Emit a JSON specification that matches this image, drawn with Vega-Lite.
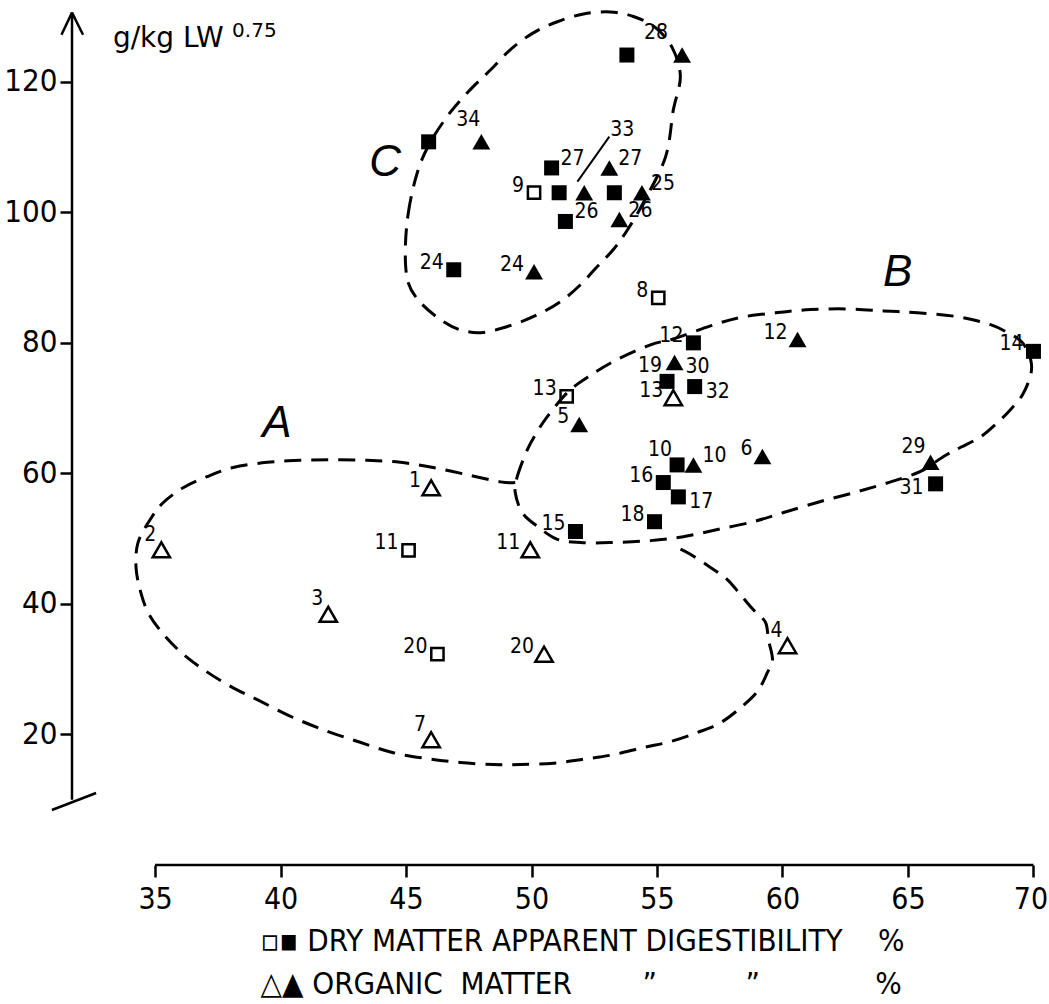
{
  "$schema": "https://vega.github.io/schema/vega-lite/v6.json",
  "width": 969,
  "height": 855,
  "autosize": {"type": "none"},
  "padding": {"left": 72, "top": 10, "right": 8, "bottom": 139},
  "background": "white",
  "config": {
    "view": {"stroke": null},
    "font": "DejaVu Sans Condensed",
    "text": {"font": "DejaVu Sans Condensed", "color": "black"}
  },
  "datasets": {
    "pts": [
      {"n": "28", "x": 53.8, "y": 124.1, "m": "DM", "f": "filled", "pos": "ur"},
      {"n": "", "x": 56.0, "y": 124.1, "m": "OM", "f": "filled", "pos": "none"},
      {"n": "", "x": 45.9, "y": 110.8, "m": "DM", "f": "filled", "pos": "none"},
      {"n": "34", "x": 48.0, "y": 110.8, "m": "OM", "f": "filled", "pos": "ua"},
      {"n": "27", "x": 50.8, "y": 106.8, "m": "DM", "f": "filled", "pos": "r"},
      {"n": "27", "x": 53.1, "y": 106.8, "m": "OM", "f": "filled", "pos": "r"},
      {"n": "9", "x": 50.1, "y": 103.0, "m": "DM", "f": "open", "pos": "l"},
      {"n": "", "x": 51.1, "y": 103.0, "m": "DM", "f": "filled", "pos": "none"},
      {"n": "", "x": 52.1, "y": 103.0, "m": "OM", "f": "filled", "pos": "none"},
      {"n": "", "x": 53.3, "y": 103.0, "m": "DM", "f": "filled", "pos": "none"},
      {"n": "25", "x": 54.4, "y": 103.0, "m": "OM", "f": "filled", "pos": "r"},
      {"n": "26", "x": 51.35, "y": 98.6, "m": "DM", "f": "filled", "pos": "r"},
      {"n": "26", "x": 53.5, "y": 98.9, "m": "OM", "f": "filled", "pos": "r"},
      {"n": "24", "x": 46.9, "y": 91.2, "m": "DM", "f": "filled", "pos": "l"},
      {"n": "24", "x": 50.1, "y": 90.9, "m": "OM", "f": "filled", "pos": "l"},
      {"n": "8", "x": 55.05, "y": 86.9, "m": "DM", "f": "open", "pos": "l"},
      {"n": "12", "x": 56.45, "y": 80.0, "m": "DM", "f": "filled", "pos": "l"},
      {"n": "12", "x": 60.6, "y": 80.5, "m": "OM", "f": "filled", "pos": "l"},
      {"n": "30", "x": 55.7, "y": 77.0, "m": "OM", "f": "filled", "pos": "dr"},
      {"n": "19", "x": 55.4, "y": 74.1, "m": "DM", "f": "filled", "pos": "ul"},
      {"n": "32", "x": 56.5, "y": 73.3, "m": "DM", "f": "filled", "pos": "dr"},
      {"n": "13", "x": 55.65, "y": 71.6, "m": "OM", "f": "open", "pos": "l"},
      {"n": "13", "x": 51.4, "y": 71.8, "m": "DM", "f": "open", "pos": "l"},
      {"n": "5", "x": 51.9, "y": 67.5, "m": "OM", "f": "filled", "pos": "l"},
      {"n": "10", "x": 55.8, "y": 61.3, "m": "DM", "f": "filled", "pos": "ul"},
      {"n": "10", "x": 56.45, "y": 61.3, "m": "OM", "f": "filled", "pos": "r"},
      {"n": "16", "x": 55.25, "y": 58.6, "m": "DM", "f": "filled", "pos": "l"},
      {"n": "17", "x": 55.85, "y": 56.4, "m": "DM", "f": "filled", "pos": "dr"},
      {"n": "18", "x": 54.9, "y": 52.6, "m": "DM", "f": "filled", "pos": "l"},
      {"n": "15", "x": 51.75, "y": 51.1, "m": "DM", "f": "filled", "pos": "l"},
      {"n": "11", "x": 49.95, "y": 48.3, "m": "OM", "f": "open", "pos": "l"},
      {"n": "6", "x": 59.2, "y": 62.6, "m": "OM", "f": "filled", "pos": "l"},
      {"n": "14", "x": 70.0, "y": 78.7, "m": "DM", "f": "filled", "pos": "l"},
      {"n": "29", "x": 65.9, "y": 61.7, "m": "OM", "f": "filled", "pos": "ul"},
      {"n": "31", "x": 66.1, "y": 58.4, "m": "DM", "f": "filled", "pos": "dl"},
      {"n": "1", "x": 46.0, "y": 57.8, "m": "OM", "f": "open", "pos": "l"},
      {"n": "2", "x": 35.25, "y": 48.3, "m": "OM", "f": "open", "pos": "ul"},
      {"n": "11", "x": 45.1, "y": 48.2, "m": "DM", "f": "open", "pos": "l"},
      {"n": "3", "x": 41.9, "y": 38.4, "m": "OM", "f": "open", "pos": "ul"},
      {"n": "20", "x": 46.25, "y": 32.3, "m": "DM", "f": "open", "pos": "l"},
      {"n": "20", "x": 50.5, "y": 32.3, "m": "OM", "f": "open", "pos": "l"},
      {"n": "7", "x": 46.0, "y": 19.2, "m": "OM", "f": "open", "pos": "ul"},
      {"n": "4", "x": 60.2, "y": 33.6, "m": "OM", "f": "open", "pos": "ul"}
    ],
    "closedLoops": [
      {"loop": "C", "i": 1, "x": 44.97, "y": 93.8},
      {"loop": "C", "i": 2, "x": 45.09, "y": 99.9},
      {"loop": "C", "i": 3, "x": 45.45, "y": 106.1},
      {"loop": "C", "i": 4, "x": 45.96, "y": 110.7},
      {"loop": "C", "i": 5, "x": 46.76, "y": 115.3},
      {"loop": "C", "i": 6, "x": 47.56, "y": 118.8},
      {"loop": "C", "i": 7, "x": 48.36, "y": 121.8},
      {"loop": "C", "i": 8, "x": 49.15, "y": 124.9},
      {"loop": "C", "i": 9, "x": 50.07, "y": 127.5},
      {"loop": "C", "i": 10, "x": 51.03, "y": 129.2},
      {"loop": "C", "i": 11, "x": 52.07, "y": 130.4},
      {"loop": "C", "i": 12, "x": 53.14, "y": 130.7},
      {"loop": "C", "i": 13, "x": 54.06, "y": 130.0},
      {"loop": "C", "i": 14, "x": 54.94, "y": 128.3},
      {"loop": "C", "i": 15, "x": 55.61, "y": 125.2},
      {"loop": "C", "i": 16, "x": 55.93, "y": 120.8},
      {"loop": "C", "i": 17, "x": 55.65, "y": 115.7},
      {"loop": "C", "i": 18, "x": 55.34, "y": 108.5},
      {"loop": "C", "i": 19, "x": 54.46, "y": 101.5},
      {"loop": "C", "i": 20, "x": 53.82, "y": 97.3},
      {"loop": "C", "i": 21, "x": 53.26, "y": 94.3},
      {"loop": "C", "i": 22, "x": 52.62, "y": 91.7},
      {"loop": "C", "i": 23, "x": 51.95, "y": 88.9},
      {"loop": "C", "i": 24, "x": 51.15, "y": 86.3},
      {"loop": "C", "i": 25, "x": 50.23, "y": 84.3},
      {"loop": "C", "i": 26, "x": 49.27, "y": 82.8},
      {"loop": "C", "i": 27, "x": 48.08, "y": 81.6},
      {"loop": "C", "i": 28, "x": 47.16, "y": 82.0},
      {"loop": "C", "i": 29, "x": 46.36, "y": 83.6},
      {"loop": "C", "i": 30, "x": 45.57, "y": 86.2},
      {"loop": "C", "i": 31, "x": 45.09, "y": 89.2},
      {"loop": "B", "i": 1, "x": 49.35, "y": 57.1},
      {"loop": "B", "i": 2, "x": 49.43, "y": 59.5},
      {"loop": "B", "i": 3, "x": 49.83, "y": 63.6},
      {"loop": "B", "i": 4, "x": 50.23, "y": 66.4},
      {"loop": "B", "i": 5, "x": 50.63, "y": 68.7},
      {"loop": "B", "i": 6, "x": 51.43, "y": 72.4},
      {"loop": "B", "i": 7, "x": 52.22, "y": 74.7},
      {"loop": "B", "i": 8, "x": 53.34, "y": 77.3},
      {"loop": "B", "i": 9, "x": 54.74, "y": 79.7},
      {"loop": "B", "i": 10, "x": 55.65, "y": 80.6},
      {"loop": "B", "i": 11, "x": 57.13, "y": 82.6},
      {"loop": "B", "i": 12, "x": 58.33, "y": 83.9},
      {"loop": "B", "i": 13, "x": 59.72, "y": 84.6},
      {"loop": "B", "i": 14, "x": 61.12, "y": 85.1},
      {"loop": "B", "i": 15, "x": 62.59, "y": 85.2},
      {"loop": "B", "i": 16, "x": 64.03, "y": 84.9},
      {"loop": "B", "i": 17, "x": 65.38, "y": 84.6},
      {"loop": "B", "i": 18, "x": 66.98, "y": 84.0},
      {"loop": "B", "i": 19, "x": 68.29, "y": 82.8},
      {"loop": "B", "i": 20, "x": 69.09, "y": 81.3},
      {"loop": "B", "i": 21, "x": 69.57, "y": 80.0},
      {"loop": "B", "i": 22, "x": 69.89, "y": 77.4},
      {"loop": "B", "i": 23, "x": 69.89, "y": 75.1},
      {"loop": "B", "i": 24, "x": 69.57, "y": 72.1},
      {"loop": "B", "i": 25, "x": 69.09, "y": 69.8},
      {"loop": "B", "i": 26, "x": 68.57, "y": 67.8},
      {"loop": "B", "i": 27, "x": 67.89, "y": 65.6},
      {"loop": "B", "i": 28, "x": 67.10, "y": 64.0},
      {"loop": "B", "i": 29, "x": 66.42, "y": 62.6},
      {"loop": "B", "i": 30, "x": 65.50, "y": 60.3},
      {"loop": "B", "i": 31, "x": 64.31, "y": 58.7},
      {"loop": "B", "i": 32, "x": 62.99, "y": 57.2},
      {"loop": "B", "i": 33, "x": 61.52, "y": 55.7},
      {"loop": "B", "i": 34, "x": 60.04, "y": 54.0},
      {"loop": "B", "i": 35, "x": 58.84, "y": 52.6},
      {"loop": "B", "i": 36, "x": 57.41, "y": 51.4},
      {"loop": "B", "i": 37, "x": 56.05, "y": 50.3},
      {"loop": "B", "i": 38, "x": 54.74, "y": 49.7},
      {"loop": "B", "i": 39, "x": 53.14, "y": 49.4},
      {"loop": "B", "i": 40, "x": 51.95, "y": 49.4},
      {"loop": "B", "i": 41, "x": 51.03, "y": 49.9},
      {"loop": "B", "i": 42, "x": 50.23, "y": 51.9},
      {"loop": "B", "i": 43, "x": 49.63, "y": 54.0}
    ],
    "openLoop": [
      {"loop": "A", "i": 1, "x": 49.35, "y": 58.6},
      {"loop": "A", "i": 2, "x": 48.76, "y": 58.7},
      {"loop": "A", "i": 3, "x": 47.44, "y": 59.8},
      {"loop": "A", "i": 4, "x": 46.08, "y": 60.9},
      {"loop": "A", "i": 5, "x": 44.77, "y": 61.7},
      {"loop": "A", "i": 6, "x": 43.45, "y": 62.0},
      {"loop": "A", "i": 7, "x": 42.10, "y": 62.1},
      {"loop": "A", "i": 8, "x": 40.78, "y": 62.0},
      {"loop": "A", "i": 9, "x": 39.47, "y": 61.7},
      {"loop": "A", "i": 10, "x": 38.11, "y": 60.9},
      {"loop": "A", "i": 11, "x": 37.07, "y": 59.5},
      {"loop": "A", "i": 12, "x": 36.12, "y": 57.8},
      {"loop": "A", "i": 13, "x": 35.32, "y": 55.5},
      {"loop": "A", "i": 14, "x": 34.80, "y": 52.9},
      {"loop": "A", "i": 15, "x": 34.32, "y": 49.4},
      {"loop": "A", "i": 16, "x": 34.24, "y": 45.7},
      {"loop": "A", "i": 17, "x": 34.40, "y": 42.2},
      {"loop": "A", "i": 18, "x": 34.72, "y": 38.7},
      {"loop": "A", "i": 19, "x": 35.28, "y": 35.6},
      {"loop": "A", "i": 20, "x": 36.00, "y": 32.7},
      {"loop": "A", "i": 21, "x": 36.91, "y": 30.0},
      {"loop": "A", "i": 22, "x": 37.99, "y": 27.4},
      {"loop": "A", "i": 23, "x": 39.19, "y": 25.1},
      {"loop": "A", "i": 24, "x": 40.50, "y": 22.6},
      {"loop": "A", "i": 25, "x": 41.86, "y": 20.5},
      {"loop": "A", "i": 26, "x": 43.17, "y": 18.8},
      {"loop": "A", "i": 27, "x": 44.49, "y": 17.2},
      {"loop": "A", "i": 28, "x": 45.85, "y": 16.3},
      {"loop": "A", "i": 29, "x": 47.16, "y": 15.7},
      {"loop": "A", "i": 30, "x": 48.48, "y": 15.4},
      {"loop": "A", "i": 31, "x": 49.55, "y": 15.4},
      {"loop": "A", "i": 32, "x": 50.87, "y": 15.6},
      {"loop": "A", "i": 33, "x": 52.07, "y": 16.2},
      {"loop": "A", "i": 34, "x": 53.26, "y": 16.9},
      {"loop": "A", "i": 35, "x": 54.46, "y": 18.0},
      {"loop": "A", "i": 36, "x": 55.53, "y": 18.9},
      {"loop": "A", "i": 37, "x": 56.61, "y": 20.3},
      {"loop": "A", "i": 38, "x": 57.53, "y": 21.8},
      {"loop": "A", "i": 39, "x": 58.33, "y": 24.1},
      {"loop": "A", "i": 40, "x": 59.00, "y": 26.6},
      {"loop": "A", "i": 41, "x": 59.40, "y": 29.5},
      {"loop": "A", "i": 42, "x": 59.60, "y": 31.5},
      {"loop": "A", "i": 43, "x": 59.44, "y": 34.5},
      {"loop": "A", "i": 44, "x": 59.32, "y": 37.2},
      {"loop": "A", "i": 45, "x": 58.84, "y": 39.1},
      {"loop": "A", "i": 46, "x": 58.33, "y": 41.4},
      {"loop": "A", "i": 47, "x": 57.81, "y": 43.7},
      {"loop": "A", "i": 48, "x": 57.13, "y": 45.6},
      {"loop": "A", "i": 49, "x": 56.33, "y": 47.6},
      {"loop": "A", "i": 50, "x": 55.81, "y": 48.6}
    ],
    "axisLines": [
      {"part": "y axis", "x": 31.69, "y": 10, "x2": 31.69, "y2": 130.6},
      {"part": "x axis", "x": 35, "y": 0, "x2": 70, "y2": 0},
      {"part": "arrow left", "x": 31.27, "y": 127.2, "x2": 31.69, "y2": 130.6},
      {"part": "arrow right", "x": 32.13, "y": 127.2, "x2": 31.69, "y2": 130.6},
      {"part": "break", "x": 30.89, "y": 8.43, "x2": 32.65, "y2": 11.03}
    ],
    "leaders": [
      {"n": "33", "x": 53.10, "y": 111.6, "x2": 51.83, "y2": 104.7}
    ],
    "groups": [
      {"n": "A", "x": 39.86, "y": 67.5},
      {"n": "B", "x": 64.59, "y": 90.75},
      {"n": "C", "x": 44.17, "y": 107.6}
    ],
    "unitMain": [{"n": "g/kg LW", "x": 33.32, "y": 125.3}],
    "unitExp": [{"n": "0.75", "x": 38.07, "y": 126.86}]
  },
  "encoding": {
    "x": {
      "field": "x", "type": "quantitative",
      "scale": {"domain": [31.69, 70.3], "nice": false, "zero": false},
      "axis": {
        "values": [35, 40, 45, 50, 55, 60, 65, 70],
        "domain": false, "grid": false,
        "tickSize": 12, "tickWidth": 2.5, "tickColor": "black",
        "labelFont": "DejaVu Sans Condensed", "labelFontSize": 30, "labelColor": "black",
        "labelPadding": 7, "labelFlush": false,
        "labelOffset": {"condition": {"test": "datum.value === 70", "value": -3}, "value": 0},
        "title": ["▫▪ DRY MATTER APPARENT DIGESTIBILITY\u00a0\u00a0\u00a0\u00a0%", "△▲ ORGANIC\u00a0\u00a0MATTER\u00a0\u00a0\u00a0\u00a0\u00a0\u00a0\u00a0\u00a0”\u00a0\u00a0\u00a0\u00a0\u00a0\u00a0\u00a0\u00a0\u00a0\u00a0”\u00a0\u00a0\u00a0\u00a0\u00a0\u00a0\u00a0\u00a0\u00a0\u00a0\u00a0\u00a0\u00a0%"],
        "titleFont": "DejaVu Sans Condensed", "titleFontSize": 31, "titleFontWeight": "normal",
        "titleColor": "black", "titleAnchor": "start", "titleAlign": "left",
        "titleX": 188, "titleY": 85, "titleBaseline": "alphabetic", "titleLineHeight": 43
      }
    },
    "y": {
      "field": "y", "type": "quantitative",
      "scale": {"domain": [0, 131], "nice": false, "zero": false},
      "axis": {
        "values": [20, 40, 60, 80, 100, 120],
        "domain": false, "grid": false,
        "tickSize": 12, "tickWidth": 2.5, "tickColor": "black",
        "labelFont": "DejaVu Sans Condensed", "labelFontSize": 31, "labelColor": "black",
        "labelPadding": 3, "title": null
      }
    }
  },
  "layer": [
    {
      "data": {"name": "axisLines"},
      "mark": {"type": "rule", "color": "black", "strokeWidth": 2.5},
      "encoding": {"x2": {"field": "x2"}, "y2": {"field": "y2"}}
    },
    {
      "data": {"name": "closedLoops"},
      "mark": {"type": "line", "color": "black", "strokeWidth": 3, "strokeDash": [17, 10], "interpolate": "cardinal-closed"},
      "encoding": {"detail": {"field": "loop"}, "order": {"field": "i"}}
    },
    {
      "data": {"name": "openLoop"},
      "mark": {"type": "line", "color": "black", "strokeWidth": 3, "strokeDash": [17, 10], "interpolate": "cardinal"},
      "encoding": {"detail": {"field": "loop"}, "order": {"field": "i"}}
    },
    {
      "data": {"name": "leaders"},
      "mark": {"type": "rule", "color": "black", "strokeWidth": 2},
      "encoding": {"x2": {"field": "x2"}, "y2": {"field": "y2"}}
    },
    {
      "data": {"name": "leaders"},
      "mark": {"type": "text", "fontSize": 21, "align": "left", "baseline": "middle", "dx": 1, "dy": -7},
      "encoding": {"text": {"field": "n"}}
    },
    {
      "data": {"name": "pts"},
      "transform": [{"filter": "datum.m === 'DM' && datum.f === 'filled'"}],
      "mark": {"type": "point", "shape": "square", "filled": true, "color": "black", "size": 225, "opacity": 1}
    },
    {
      "data": {"name": "pts"},
      "transform": [{"filter": "datum.m === 'DM' && datum.f === 'open'"}],
      "mark": {"type": "point", "shape": "square", "filled": false, "stroke": "black", "strokeWidth": 2.5, "size": 150, "opacity": 1}
    },
    {
      "data": {"name": "pts"},
      "transform": [{"filter": "datum.m === 'OM' && datum.f === 'filled'"}],
      "mark": {"type": "point", "shape": "triangle-up", "filled": true, "color": "black", "size": 320, "opacity": 1}
    },
    {
      "data": {"name": "pts"},
      "transform": [{"filter": "datum.m === 'OM' && datum.f === 'open'"}],
      "mark": {"type": "point", "shape": "triangle-up", "filled": false, "stroke": "black", "strokeWidth": 2.5, "size": 300, "opacity": 1}
    },
    {
      "data": {"name": "pts"},
      "transform": [{"filter": "datum.pos === 'l'"}],
      "mark": {"type": "text", "fontSize": 21, "align": "right", "baseline": "middle", "dx": -10, "dy": -7},
      "encoding": {"text": {"field": "n"}}
    },
    {
      "data": {"name": "pts"},
      "transform": [{"filter": "datum.pos === 'r'"}],
      "mark": {"type": "text", "fontSize": 21, "align": "left", "baseline": "middle", "dx": 9, "dy": -9},
      "encoding": {"text": {"field": "n"}}
    },
    {
      "data": {"name": "pts"},
      "transform": [{"filter": "datum.pos === 'ul'"}],
      "mark": {"type": "text", "fontSize": 21, "align": "right", "baseline": "middle", "dx": -5, "dy": -15},
      "encoding": {"text": {"field": "n"}}
    },
    {
      "data": {"name": "pts"},
      "transform": [{"filter": "datum.pos === 'ua'"}],
      "mark": {"type": "text", "fontSize": 21, "align": "right", "baseline": "middle", "dx": -1, "dy": -22},
      "encoding": {"text": {"field": "n"}}
    },
    {
      "data": {"name": "pts"},
      "transform": [{"filter": "datum.pos === 'ur'"}],
      "mark": {"type": "text", "fontSize": 21, "align": "left", "baseline": "middle", "dx": 17, "dy": -22},
      "encoding": {"text": {"field": "n"}}
    },
    {
      "data": {"name": "pts"},
      "transform": [{"filter": "datum.pos === 'dr'"}],
      "mark": {"type": "text", "fontSize": 21, "align": "left", "baseline": "middle", "dx": 11, "dy": 5},
      "encoding": {"text": {"field": "n"}}
    },
    {
      "data": {"name": "pts"},
      "transform": [{"filter": "datum.pos === 'dl'"}],
      "mark": {"type": "text", "fontSize": 21, "align": "right", "baseline": "middle", "dx": -12, "dy": 4},
      "encoding": {"text": {"field": "n"}}
    },
    {
      "data": {"name": "groups"},
      "mark": {"type": "text", "font": "Liberation Sans", "fontStyle": "italic", "fontSize": 44, "align": "center", "baseline": "middle"},
      "encoding": {"text": {"field": "n"}}
    },
    {
      "data": {"name": "unitMain"},
      "mark": {"type": "text", "font": "DejaVu Sans", "fontSize": 28, "align": "left", "baseline": "alphabetic"},
      "encoding": {"text": {"field": "n"}}
    },
    {
      "data": {"name": "unitExp"},
      "mark": {"type": "text", "font": "DejaVu Sans", "fontSize": 20, "align": "left", "baseline": "alphabetic"},
      "encoding": {"text": {"field": "n"}}
    }
  ]
}
